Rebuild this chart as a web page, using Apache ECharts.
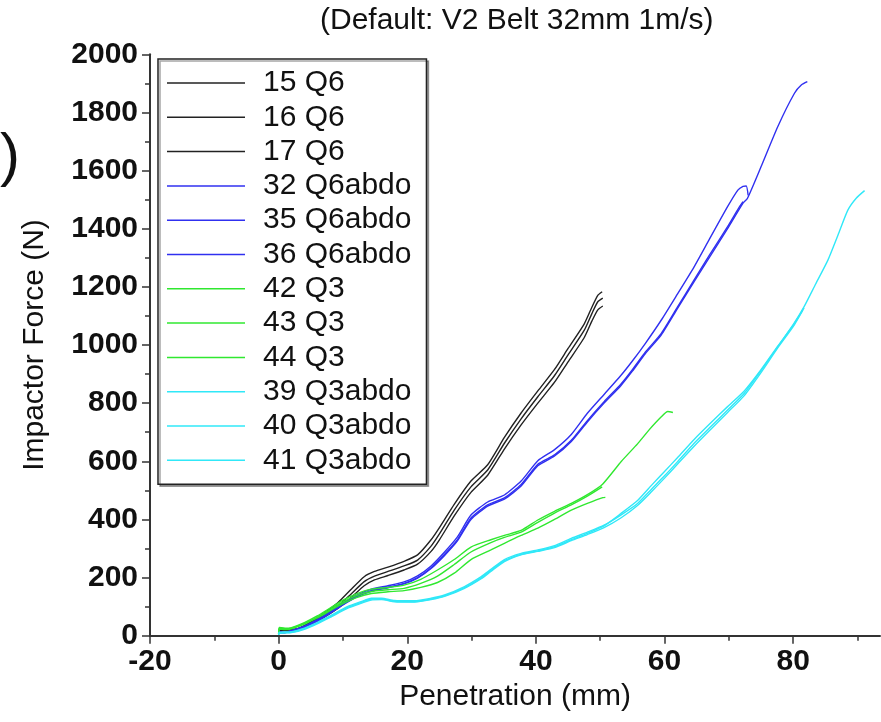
<!DOCTYPE html>
<html>
<head>
<meta charset="utf-8">
<script src="https://cdn.jsdelivr.net/npm/echarts@6/dist/echarts.min.js"></script>
<style>
    html, body {margin: 0; padding: 0; background: #fff;}
    #chart {width: 881px; height: 722px;}
</style>
</head>
<body>
<div id="chart"></div>
<script>
// values: [penetration mm, force N]
const q6_15 = [[0,20],[1.5,21],[2.7,23],[4,35],[5.5,54],[7.1,78],[9.2,113],[11.2,158],[13.3,203],[14.9,221],[17,236],[19.5,256],[21.6,278],[23.7,330],[25,372],[27.3,452],[29.9,532],[32.5,588],[35.1,682],[37.7,766],[40.3,842],[42.9,916],[45,988],[47.5,1072],[48.7,1130],[49.6,1170],[50.3,1183]];
const q6_16 = [[0,19],[1.5,20],[2.7,22],[4,32],[5.5,50],[7.1,70],[9.2,102],[11.2,142],[13.3,186],[14.9,205],[17,221],[19.5,240],[21.6,260],[23.7,308],[25,350],[27.3,432],[29.9,512],[32.5,570],[35.1,662],[37.7,746],[40.3,822],[42.9,895],[45,966],[47.5,1050],[48.7,1108],[49.6,1148],[50.4,1161]];
const q6_17 = [[0,18],[1.5,19],[2.7,21],[4,30],[5.5,46],[7.1,64],[9.2,94],[11.2,130],[13.3,172],[14.9,192],[17,207],[19.5,226],[21.6,246],[23.7,290],[25,330],[27.3,412],[29.9,493],[32.5,552],[35.1,642],[37.7,725],[40.3,800],[42.9,872],[45,942],[47.5,1025],[48.7,1082],[49.6,1120],[50.4,1134]];

const q6abdo_32 = [[0,14],[1,12],[2,18],[4,33],[6,55],[8,82],[10,112],[12,138],[14.4,160],[17,172],[19.5,185],[21.6,206],[23.7,240],[25.8,288],[27.8,340],[29.9,415],[32.5,460],[35.1,484],[37.7,532],[40.3,602],[42.9,640],[45.5,692],[48,765],[50.6,830],[53.2,895],[55,945],[57,1005],[59.5,1086],[62,1175],[64.6,1269],[67,1365],[69.8,1476],[71.4,1533],[72.2,1546],[72.7,1547],[73,1515]];
const q6abdo_35 = [[0,12],[1,11],[2,17],[4,31],[6,52],[8,79],[10,108],[12,134],[14.4,155],[17,167],[19.5,180],[21.6,200],[23.7,234],[25.8,280],[27.8,330],[29.9,405],[32.5,450],[35.1,474],[37.7,520],[40.3,590],[42.9,622],[45.5,672],[48,740],[50.6,805],[53.2,865],[55,915],[57,975],[59.5,1040],[62,1130],[64.6,1224],[67,1310],[69.8,1407],[71.5,1470],[72.2,1493]];
const q6abdo_36 = [[0,10],[1,10],[2,16],[4,30],[6,50],[8,77],[10,106],[12,132],[14.4,153],[17,165],[19.5,178],[21.6,198],[23.7,231],[25.8,276],[27.8,326],[29.9,400],[32.5,446],[35.1,470],[37.7,515],[40.3,585],[42.9,618],[45.5,668],[48,735],[50.6,800],[53.2,860],[55,910],[57,970],[59.5,1035],[62,1125],[64.6,1218],[67,1302],[69.8,1400],[72.2,1488],[72.9,1505],[75,1613],[77.6,1751],[80.2,1866],[81.3,1895],[82.2,1906]];

const q3_42 = [[0,5],[0.1,28],[1,26],[2,28],[4,45],[6,68],[8,95],[10,122],[12,143],[14.4,160],[17,166],[19.5,174],[22.1,194],[24.7,226],[27.3,262],[29.9,305],[33,330],[35.1,345],[37.7,362],[40.3,398],[42.9,428],[45.5,455],[48,485],[50.4,522],[53.3,600],[55.8,660],[57.6,708],[59.5,753],[60.5,771],[61.3,768]];
const q3_43 = [[0,5],[0.1,22],[1,21],[2,24],[4,40],[6,61],[8,86],[10,110],[12,130],[14.4,145],[17,151],[19.5,155],[22.1,166],[24.7,183],[27.3,215],[29.9,262],[33,295],[35.1,318],[37.7,345],[40.3,370],[42.9,400],[45.5,432],[48,455],[50.4,475],[50.8,476]];
const q3_44 = [[0,5],[0.1,25],[1,24],[2,26],[4,42],[6,64],[8,90],[10,116],[12,137],[14.4,152],[17,158],[19.5,163],[22.1,180],[24.7,205],[27.3,245],[29.9,288],[33,320],[35.1,338],[37.7,356],[40.3,390],[42.9,422],[45.5,450],[48,480],[50.3,512]];

const q3abdo_39 = [[0,4],[0.1,12],[2,14],[4,26],[6,45],[8,68],[10.7,100],[12.8,117],[14.4,129],[16,129],[18,121],[21.1,120],[23.7,129],[25.8,140],[28.9,169],[31.5,203],[33,228],[35.1,262],[37.7,283],[40.3,295],[42.9,310],[45.5,335],[48,356],[50.6,380],[53.2,415],[55.8,455],[58,505],[60,550],[62,598],[64.6,662],[67,715],[69.8,776],[72.4,834],[75,912],[77.6,994],[80,1070],[81.7,1132],[83.5,1210],[85.4,1292],[87,1380],[88.5,1464],[89.8,1505],[91.1,1531]];
const q3abdo_40 = [[0,4],[0.1,10],[2,12],[4,24],[6,43],[8,66],[10.7,97],[12.8,114],[14.4,126],[16,126],[18,118],[21.1,117],[23.7,126],[25.8,137],[28.9,165],[31.5,199],[33,224],[35.1,258],[37.7,280],[40.3,292],[42.9,306],[45.5,330],[48,352],[50.6,378],[53.2,420],[55.8,465],[58,518],[60,565],[62,612],[64.6,675],[67,728],[69.8,788],[72.4,842],[75,915],[77.6,996],[80,1068],[81.7,1128]];
const q3abdo_41 = [[0,3],[0.1,8],[2,11],[4,22],[6,41],[8,63],[10.7,94],[12.8,111],[14.4,123],[16,124],[18,117],[21.1,116],[23.7,124],[25.8,135],[28.9,163],[31.5,196],[33,221],[35.1,255],[37.7,278],[40.3,290],[42.9,303],[45.5,327],[48,348],[50.6,372],[53.2,405],[55.8,448],[58,496],[60,542],[62,590],[64.6,652],[67,706],[69.8,768],[72.4,826],[75,905],[77.6,990],[80,1063],[81.5,1120]];

const xMajorTicks = [-20, 0, 20, 40, 60, 80];
const xMinorTicks = [-10, 10, 30, 50, 70, 90];

const seriesList = [
    {name: '15 Q6', data: q6_15, color: '#222222'},
    {name: '16 Q6', data: q6_16, color: '#222222'},
    {name: '17 Q6', data: q6_17, color: '#222222'},
    {name: '32 Q6abdo', data: q6abdo_32, color: '#3030f0'},
    {name: '35 Q6abdo', data: q6abdo_35, color: '#3030f0'},
    {name: '36 Q6abdo', data: q6abdo_36, color: '#3030f0'},
    {name: '42 Q3', data: q3_42, color: '#30e830'},
    {name: '43 Q3', data: q3_43, color: '#30e830'},
    {name: '44 Q3', data: q3_44, color: '#30e830'},
    {name: '39 Q3abdo', data: q3abdo_39, color: '#30e8f8'},
    {name: '40 Q3abdo', data: q3abdo_40, color: '#30e8f8'},
    {name: '41 Q3abdo', data: q3abdo_41, color: '#30e8f8'}
];

const font = 'Liberation Sans, Arial, sans-serif';

var chart = echarts.init(document.getElementById('chart'));
var option = {
    animation: false,
    backgroundColor: '#fff',
    textStyle: {fontFamily: font},
    title: {
        text: '(Default: V2 Belt 32mm 1m/s)',
        left: 320,
        top: 6,
        padding: 0,
        textStyle: {fontFamily: font, fontSize: 30, fontWeight: 'normal', color: '#111'}
    },
    graphic: [{
            type: 'text',
            left: 0,
            top: 128,
            style: {text: ')', font: '60px ' + font, fill: '#111'}
        }],
    legend: {
        orient: 'vertical',
        left: 158,
        top: 59,
        padding: [9, 15, 9, 9],
        icon: 'rect',
        itemWidth: 78,
        itemHeight: 1.5,
        itemGap: 4.3,
        backgroundColor: '#fff',
        borderColor: '#222',
        borderWidth: 1.5,
        shadowColor: 'rgba(0,0,0,0.35)',
        shadowOffsetX: 2,
        shadowOffsetY: 2,
        selectedMode: false,
        textStyle: {fontFamily: font, fontSize: 30, lineHeight: 30, color: '#111', padding: [0, 0, 0, 13]},
        data: seriesList.map(s => s.name)
    },
    grid: {left: 150, right: 1, top: 54.3, bottom: 86.3, containLabel: false},
    xAxis: [{
            type: 'value',
            min: -20,
            max: 93.5,
            name: 'Penetration (mm)',
            nameLocation: 'middle',
            nameGap: 44,
            nameTextStyle: {fontFamily: font, fontSize: 30, color: '#111'},
            axisLine: {show: true, onZero: false, lineStyle: {color: '#333', width: 2}},
            axisTick: {show: true, length: 8, customValues: xMajorTicks, lineStyle: {color: '#333', width: 1.5}},
            axisLabel: {customValues: xMajorTicks, margin: 11, fontSize: 30, fontWeight: 'bold', color: '#111', fontFamily: font},
            splitLine: {show: false}
        }, {
            type: 'value',
            position: 'bottom',
            min: -20,
            max: 93.5,
            axisLine: {show: false, onZero: false},
            axisTick: {show: true, length: 5, customValues: xMinorTicks, lineStyle: {color: '#333', width: 1.5}},
            axisLabel: {show: false},
            splitLine: {show: false}
        }],
    yAxis: {
        type: 'value',
        min: 0,
        max: 2000,
        interval: 200,
        name: 'Impactor Force (N)',
        nameLocation: 'middle',
        nameGap: 100,
        nameTextStyle: {fontFamily: font, fontSize: 30, color: '#111'},
        axisLine: {show: true, onZero: false, lineStyle: {color: '#333', width: 2}},
        axisTick: {show: true, length: 8, lineStyle: {color: '#333', width: 1.5}},
        minorTick: {show: true, splitNumber: 2, length: 5, lineStyle: {color: '#333', width: 1.5}},
        axisLabel: {
            margin: 12, fontSize: 30, fontWeight: 'bold', color: '#111', fontFamily: font,
            formatter: v => String(v)
        },
        splitLine: {show: false}
    },
    series: seriesList.map(s => ({
            name: s.name,
            type: 'line',
            xAxisIndex: 0,
            data: s.data,
            symbol: 'none',
            smooth: 0.2,
            color: s.color,
            lineStyle: {color: s.color, width: 1.4}
        }))
};
chart.setOption(option);
</script>
</body>
</html>
